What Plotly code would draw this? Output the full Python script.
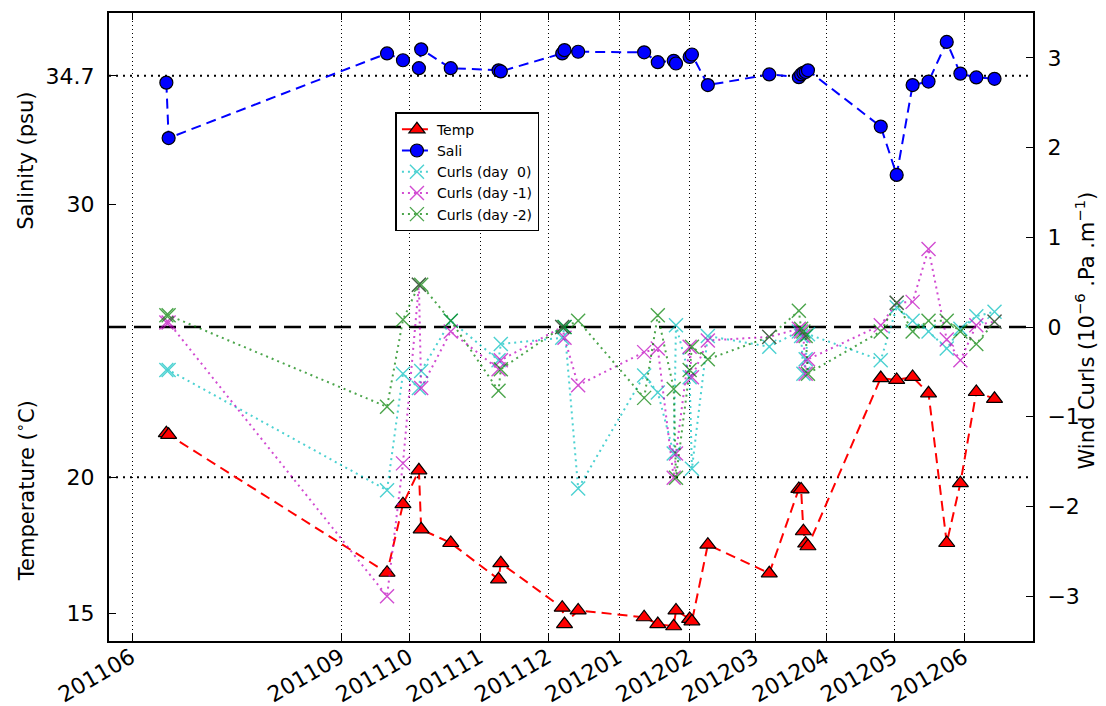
import plotly.graph_objects as go

dates = ["2011-06-16", "2011-06-17", "2011-09-21", "2011-09-28", "2011-10-05", "2011-10-06",
         "2011-10-19", "2011-11-09", "2011-11-10", "2011-12-07", "2011-12-08", "2011-12-14",
         "2012-01-12", "2012-01-18", "2012-01-25", "2012-01-26", "2012-02-01", "2012-02-02",
         "2012-02-09", "2012-03-07", "2012-03-20", "2012-03-21", "2012-03-22", "2012-03-23",
         "2012-03-24", "2012-04-25", "2012-05-02", "2012-05-09", "2012-05-16", "2012-05-24",
         "2012-05-30", "2012-06-06", "2012-06-14"]

temp = [21.61, 21.55, 16.50, 19.01, 20.25, 18.09, 17.59, 16.26, 16.85, 15.22, 14.62, 15.12,
        14.87, 14.62, 14.54, 15.12, 14.81, 14.72, 17.53, 16.48, 19.57, 19.55, 18.02, 17.57,
        17.47, 23.63, 23.56, 23.67, 23.07, 17.59, 19.78, 23.12, 22.87]

sali = [34.45, 32.42, 35.52, 35.27, 34.98, 35.67, 34.98, 34.90, 34.86, 35.52, 35.64, 35.58,
        35.56, 35.20, 35.25, 35.15, 35.39, 35.48, 34.36, 34.75, 34.65, 34.75, 34.81, 34.84,
        34.90, 32.84, 31.07, 34.36, 34.49, 35.94, 34.78, 34.64, 34.59]

curl_d0 = [-0.48, -0.48, -1.82, -0.52, -0.68, -0.49, 0.07, -0.37, -0.19, -0.12, 0.00, -1.80,
           -0.54, -0.73, -1.41, 0.02, -0.56, -1.58, -0.10, -0.22, -0.05, -0.10, -0.52, -0.36,
           -0.08, -0.37, 0.22, 0.07, -0.05, -0.24, -0.02, 0.12, 0.17]

curl_d1 = [0.05, 0.05, -3.00, -1.52, 0.47, -0.68, -0.05, -0.47, -0.37, 0.00, -0.12, -0.65,
           -0.28, -0.24, -1.68, -1.41, -0.22, -0.56, -0.15, -0.11, -0.02, -0.05, -0.10, -0.52,
           -0.36, 0.02, 0.27, 0.28, 0.87, -0.14, -0.37, 0.02, 0.06]

curl_d2 = [0.13, 0.13, -0.89, 0.08, 0.47, 0.47, 0.07, -0.71, -0.47, 0.00, 0.00, 0.07,
           -0.79, 0.13, -0.69, -1.68, -0.48, -0.22, -0.36, -0.11, 0.18, -0.02, -0.05, -0.10,
           -0.52, -0.05, 0.27, -0.05, 0.07, 0.07, -0.05, -0.19, 0.06]

tick_dates = ["2011-06-01", "2011-09-01", "2011-10-01", "2011-11-01", "2011-12-01", "2012-01-01",
              "2012-02-01", "2012-03-01", "2012-04-01", "2012-05-01", "2012-06-01"]
tick_text = ["201106", "201109", "201110", "201111", "201112", "201201",
             "201202", "201203", "201204", "201205", "201206"]
left_ticks = [15, 20, 30, 34.7]
left_text = ["15", "20", "30", "34.7"]
ref_lines = [34.7, 20]

FONT = "DejaVu Sans"

fig = go.Figure()

fig.add_trace(go.Scatter(
    x=dates, y=temp, name="Temp", mode="lines+markers",
    line=dict(color="red", width=2, dash="10px,6px"),
    marker=dict(symbol="triangle-up", size=14, color="red", line=dict(color="black", width=1.2)),
))
fig.add_trace(go.Scatter(
    x=dates, y=sali, name="Sali", mode="lines+markers",
    line=dict(color="blue", width=2, dash="10px,6px"),
    marker=dict(symbol="circle", size=13, color="blue", line=dict(color="black", width=1.2)),
))

curl_specs = [("Curls (day \u00a00)", curl_d0, "rgb(0,191,191)"),
              ("Curls (day -1)", curl_d1, "rgb(191,0,191)"),
              ("Curls (day -2)", curl_d2, "rgb(0,128,0)")]
for name, vals, col in curl_specs:
    fig.add_trace(go.Scatter(
        x=dates, y=vals, name=name, mode="lines+markers", yaxis="y2", opacity=0.7,
        line=dict(color=col, width=2, dash="2px,4px"),
        marker=dict(symbol="x-thin", size=14, color=col, line=dict(color=col, width=1.4)),
    ))

shapes = []
for v in ref_lines:
    shapes.append(dict(type="line", xref="paper", x0=0, x1=1, yref="y", y0=v, y1=v,
                       line=dict(color="black", width=2, dash="2px,5px"), layer="below"))
shapes.append(dict(type="line", xref="paper", x0=0, x1=1, yref="y2", y0=0, y1=0,
                   line=dict(color="black", width=2.5, dash="17px,8px"), layer="below"))

# page body has an 8px margin: size the figure so the plot area lands on 109..1025 x 13..633
fig.update_layout(
    width=1098, height=698,
    margin=dict(l=101, r=73, t=5, b=65, autoexpand=False),
    paper_bgcolor="white", plot_bgcolor="white",
    font=dict(family=FONT, size=22, color="black"),
    shapes=shapes,
    showlegend=True,
    legend=dict(x=0.31, y=0.842, xanchor="left", yanchor="top",
                bgcolor="white", bordercolor="black", borderwidth=1.5,
                font=dict(family=FONT, size=14), tracegroupgap=0),
    xaxis=dict(
        type="date", range=["2011-05-21T19:00", "2012-06-30T22:00"],
        tickvals=tick_dates, ticktext=tick_text, tickangle=-30,
        ticks="inside", ticklen=7, tickcolor="black", tickwidth=1,
        showline=True, linecolor="black", linewidth=2, mirror="ticks",
        showgrid=True, gridcolor="black", gridwidth=1, griddash="1px,3px",
        zeroline=False, tickfont=dict(size=22),
        ticklabelstandoff=-7, ticklabelshift=-1,
    ),
    yaxis=dict(
        range=[14, 37], tickvals=left_ticks, ticktext=left_text,
        ticks="inside", ticklen=7, tickcolor="black",
        showline=True, linecolor="black", linewidth=2, mirror=True,
        showgrid=False, zeroline=False, ticklabelstandoff=8,
        tickfont=dict(size=22),
    ),
    yaxis2=dict(
        overlaying="y", side="right", range=[-3.5, 3.5], dtick=1,
        ticks="inside", ticklen=7, tickcolor="black",
        showline=True, linecolor="black", linewidth=2,
        showgrid=False, zeroline=False, ticklabelstandoff=8,
        tickfont=dict(size=22),
    ),
    annotations=[
        dict(text="Salinity (psu)", xref="paper", yref="paper", x=-0.0906, y=0.765,
             xanchor="center", yanchor="middle",
             textangle=-90, showarrow=False, font=dict(size=21)),
        dict(text="Temperature (<sup>\u2218</sup>C)", xref="paper", yref="paper", x=-0.0906, y=0.239,
             xanchor="center", yanchor="middle",
             textangle=-90, showarrow=False, font=dict(size=21)),
        dict(text="Wind Curls (10<sup>\u22126</sup> .Pa .m<sup>\u22121</sup>)", xref="paper", yref="paper",
             x=1.056, y=0.494, xanchor="center", yanchor="middle",
             textangle=-90, showarrow=False, font=dict(size=21)),
    ],
)

fig.write_html("out.html")
